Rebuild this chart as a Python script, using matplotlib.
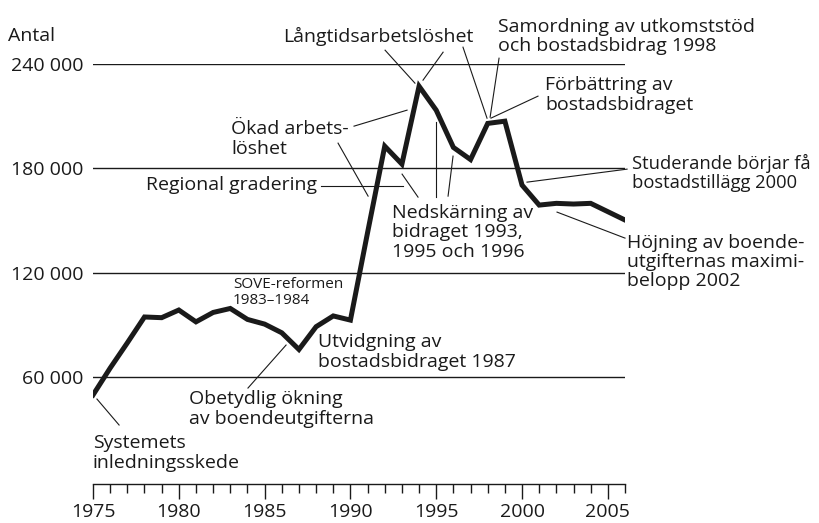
"""
Antal hushåll med bostadsbidrag 1975-2006, med händelser utmärkta
"""

import matplotlib.pyplot as plt
from matplotlib.ticker import MultipleLocator, FuncFormatter

plt.rcParams['font.family'] = ['Open Sans', 'DejaVu Sans']

# data avläst ur originalbilden
years = list(range(1975, 2007))
antal = [49500, 65000, 79500, 94400, 94000, 98400, 91600, 97000, 99300, 93000,
         90300, 85300, 75700, 88800, 95000, 92600, 143000, 192700, 182400, 227200,
         213400, 192000, 185000, 205800, 207100, 170300, 158800, 159800, 159400, 159800,
         155000, 150200]
y_ticks = [60000, 120000, 180000, 240000]
x_major = [1975, 1980, 1985, 1990, 1995, 2000, 2005]

INK = '#1a1a1a'
FS = 14

fig = plt.figure(figsize=(8.19, 5.23), dpi=100)
ax = fig.add_axes([93 / 819, 1 - 481 / 523, 532 / 819, 417 / 523])

for v in y_ticks:
    ax.axhline(v, color=INK, lw=1.0, zorder=1)

ax.plot(years, antal, color=INK, lw=3.6, solid_joinstyle='miter', zorder=3)

ax.set_xlim(1975, 2006)
ax.set_ylim(0, 240000)
for s in ['top', 'right', 'left']:
    ax.spines[s].set_visible(False)
ax.spines['bottom'].set_color(INK)
ax.spines['bottom'].set_linewidth(1.0)
ax.spines['bottom'].set_position(('data', -1500))

ax.set_yticks(y_ticks)
ax.yaxis.set_major_formatter(FuncFormatter(lambda v, p: f'{int(v):,}'.replace(',', ' ')))
ax.tick_params(axis='y', length=0, pad=7, labelsize=FS, labelcolor=INK)

ax.set_xticks(x_major)
ax.xaxis.set_minor_locator(MultipleLocator(1))
ax.tick_params(axis='x', which='major', length=11, width=1.0, color=INK, pad=3,
               labelsize=FS, labelcolor=INK)
ax.tick_params(axis='x', which='minor', length=6.5, width=1.0, color=INK)

fig.text(8 / 819, 1 - 36 / 523, 'Antal', fontsize=FS, color=INK, va='center')


def note(x, y, txt, ha='left', size=FS):
    ax.text(x, y, txt, ha=ha, va='center', fontsize=size, color=INK,
            linespacing=1.1, clip_on=False, zorder=4)


def leader(x0, y0, x1, y1):
    ax.plot([x0, x1], [y0, y1], color=INK, lw=0.8, clip_on=False, zorder=2)


note(1986.07, 256000, 'Långtidsarbetslöshet')
leader(1992.02, 247950, 1993.76, 228970)
leader(1995.40, 246800, 1994.23, 230700)

note(1998.60, 256000, 'Samordning av utkomststöd\noch bostadsbidrag 1998')
leader(1996.56, 249680, 1997.96, 208800)
leader(1998.66, 243340, 1998.14, 209400)

note(2001.34, 222070, 'Förbättring av\nbostadsbidraget')
leader(2000.93, 221500, 1998.19, 208850)

note(1983.04, 196750, 'Ökad arbets-\nlöshet')
leader(1990.21, 204230, 1993.30, 213440)
leader(1989.28, 194450, 1991.03, 163960)

note(1988.05, 170290, 'Regional gradering', ha='right')
leader(1988.29, 169710, 1993.07, 169710)

note(1992.42, 143250, 'Nedskärning av\nbidraget 1993,\n1995 och 1996')
leader(1993.94, 163385, 1993.01, 176620)
leader(1994.99, 163385, 1994.99, 206530)
leader(1995.69, 163960, 1995.98, 186970)

note(2006.41, 177190, 'Studerande börjar få\nbostadstillägg 2000', size=13.2)
leader(2006.12, 179490, 2000.29, 172000)

note(2006.12, 126000, 'Höjning av boende-\nutgifternas maximi-\nbelopp 2002')
leader(2006.0, 139800, 2002.04, 154760)

note(1983.16, 108730, 'SOVE-reformen\n1983–1984', size=11)

note(1988.11, 74210, 'Utvidgning av\nbostadsbidraget 1987')

note(1980.59, 41420, 'Obetydlig ökning\nav boendeutgifterna')
leader(1984.03, 53500, 1986.25, 78240)

note(1975.0, 16110, 'Systemets\ninledningsskede')
leader(1976.52, 32220, 1975.23, 47170)

fig.savefig('out.png', dpi=100)
